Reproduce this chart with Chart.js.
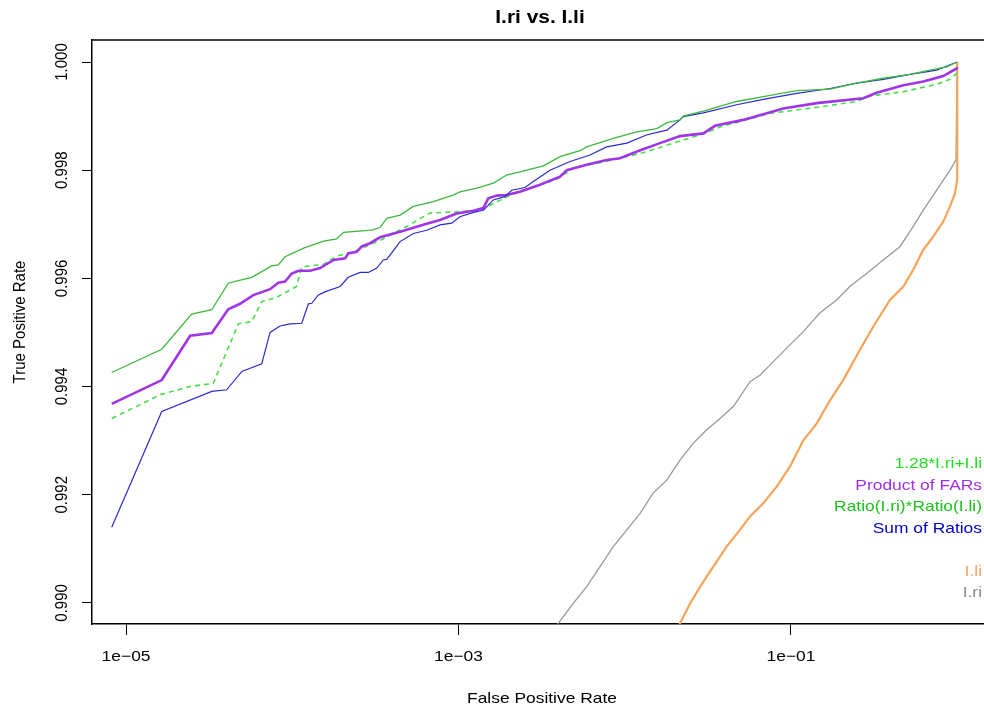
<!DOCTYPE html>
<html>
<head>
<meta charset="utf-8">
<script src="https://cdn.jsdelivr.net/npm/chart.js@4.4.1/dist/chart.umd.min.js"></script>
<style>
html,body{margin:0;padding:0;background:#fff;}
#wrap{width:984px;height:713px;}
</style>
</head>
<body>
<div id="wrap"><canvas id="c" width="984" height="713"></canvas></div>
<script>
// ---------- data ----------
const chartTitle = 'I.ri vs. I.li';
const xAxisTitle = 'False Positive Rate';
const yAxisTitle = 'True Positive Rate';

const xTickValues = [1e-5, 1e-3, 1e-1];
const xTickLabels = ['1e\u221205', '1e\u221203', '1e\u221201'];
const yTickValues = [0.990, 0.992, 0.994, 0.996, 0.998, 1.000];
const yTickLabels = ['0.990', '0.992', '0.994', '0.996', '0.998', '1.000'];

const legendLabels = ['1.28*I.ri+I.li', 'Product of FARs', 'Ratio(I.ri)*Ratio(I.li)', 'Sum of Ratios', '', 'I.li', 'I.ri'];
const legendColors = ['#1fe01f', '#a030e8', '#1cc01c', '#0000cc', '#ffffff', '#f4a460', '#8c8c8c'];

// Ratio(I.ri)*Ratio(I.li)
const ratioFpr = [8.20e-6,1.64e-5,2.48e-5,3.28e-5,4.12e-5,4.74e-5,5.70e-5,7.52e-5,8.24e-5,9.05e-5,1.17e-4,1.54e-4,1.85e-4,2.03e-4,3.00e-4,3.37e-4,3.70e-4,4.45e-4,5.35e-4,7.05e-4,9.30e-4,1.02e-3,1.29e-3,1.62e-3,1.95e-3,2.57e-3,3.24e-3,4.08e-3,5.38e-3,5.90e-3,8.53e-3,1.18e-2,1.56e-2,1.79e-2,2.15e-2,2.25e-2,2.97e-2,4.71e-2,6.81e-2,1.08e-1,1.72e-1,2.48e-1,3.59e-1,5.20e-1,6.86e-1,8.64e-1,1.0];
const ratioTpr = [0.99426,0.99469,0.99534,0.99542,0.99591,0.99596,0.99602,0.99623,0.99625,0.99640,0.99656,0.99669,0.99673,0.99685,0.99689,0.99694,0.99711,0.99717,0.99733,0.99742,0.99754,0.99760,0.99767,0.99776,0.99791,0.99800,0.99808,0.99825,0.99836,0.99843,0.99859,0.99871,0.99877,0.99888,0.99893,0.99900,0.99909,0.99927,0.99936,0.99947,0.99950,0.99961,0.99970,0.99977,0.99985,0.99991,1.0];

// Sum of Ratios
const sumFpr = [8.20e-6,1.64e-5,3.28e-5,4.03e-5,4.97e-5,6.55e-5,7.35e-5,8.44e-5,9.69e-5,1.14e-4,1.25e-4,1.31e-4,1.43e-4,1.57e-4,1.94e-4,2.17e-4,2.56e-4,2.87e-4,3.22e-4,3.53e-4,3.70e-4,4.45e-4,5.35e-4,6.44e-4,7.74e-4,9.10e-4,1.02e-3,1.23e-3,1.41e-3,1.62e-3,1.90e-3,2.09e-3,2.51e-3,2.82e-3,3.55e-3,4.69e-3,6.18e-3,7.79e-3,1.03e-2,1.35e-2,1.79e-2,2.15e-2,2.25e-2,2.97e-2,4.71e-2,6.81e-2,1.08e-1,1.72e-1,2.48e-1,3.59e-1,5.20e-1,7.52e-1,1.0];
const sumTpr = [0.99140,0.99354,0.99391,0.99394,0.99428,0.99442,0.99500,0.99512,0.99516,0.99517,0.99553,0.99554,0.99569,0.99575,0.99585,0.99602,0.99611,0.99611,0.99619,0.99634,0.99635,0.99668,0.99683,0.99689,0.99699,0.99702,0.99714,0.99722,0.99726,0.99745,0.99751,0.99763,0.99768,0.99779,0.99800,0.99816,0.99828,0.99843,0.99850,0.99865,0.99874,0.99893,0.99899,0.99906,0.99921,0.99931,0.99942,0.99951,0.99961,0.99968,0.99977,0.99985,1.0];

// Product of FARs
const prodFpr = [8.20e-6,1.64e-5,2.43e-5,3.28e-5,4.12e-5,4.85e-5,5.83e-5,7.35e-5,8.24e-5,9.05e-5,9.92e-5,1.09e-4,1.28e-4,1.47e-4,1.77e-4,2.08e-4,2.17e-4,2.44e-4,2.62e-4,2.94e-4,3.37e-4,4.45e-4,6.14e-4,7.74e-4,9.75e-4,1.23e-3,1.41e-3,1.51e-3,1.70e-3,1.95e-3,2.34e-3,3.09e-3,4.08e-3,4.48e-3,5.90e-3,7.79e-3,9.36e-3,1.24e-2,1.63e-2,2.15e-2,2.97e-2,3.49e-2,5.16e-2,8.99e-2,1.43e-1,2.72e-1,3.28e-1,4.74e-1,6.25e-1,8.24e-1,9.92e-1,1.0];
const prodTpr = [0.99368,0.99412,0.99494,0.99499,0.99543,0.99553,0.99569,0.99580,0.99592,0.99594,0.99609,0.99614,0.99614,0.99619,0.99634,0.99637,0.99646,0.99649,0.99659,0.99665,0.99676,0.99686,0.99699,0.99708,0.99720,0.99725,0.99730,0.99748,0.99753,0.99754,0.99760,0.99773,0.99788,0.99800,0.99810,0.99819,0.99822,0.99837,0.99850,0.99863,0.99868,0.99882,0.99893,0.99914,0.99924,0.99933,0.99943,0.99957,0.99964,0.99974,0.99988,0.99990];

// 1.28*I.ri+I.li
const linFpr = [8.20e-6,1.64e-5,2.43e-5,3.35e-5,4.74e-5,5.70e-5,6.55e-5,8.06e-5,1.06e-4,1.14e-4,1.54e-4,1.85e-4,2.33e-4,3.07e-4,3.37e-4,4.88e-4,6.74e-4,9.75e-4,1.35e-3,2.14e-3,2.95e-3,3.90e-3,4.90e-3,7.10e-3,9.36e-3,1.35e-2,2.15e-2,2.97e-2,3.74e-2,7.48e-2,1.49e-1,2.48e-1,2.99e-1,4.74e-1,7.52e-1,9.05e-1,1.0];
const linTpr = [0.99341,0.99386,0.99400,0.99406,0.99516,0.99520,0.99557,0.99565,0.99585,0.99621,0.99626,0.99641,0.99649,0.99665,0.99670,0.99696,0.99721,0.99723,0.99726,0.99757,0.99771,0.99783,0.99804,0.99814,0.99822,0.99834,0.99854,0.99867,0.99880,0.99905,0.99917,0.99927,0.99937,0.99945,0.99959,0.99968,0.99980];

// I.ri
const riFpr = [3.22e-3,3.98e-3,4.90e-3,5.90e-3,7.10e-3,8.53e-3,1.03e-2,1.24e-2,1.48e-2,1.79e-2,2.15e-2,2.58e-2,3.11e-2,3.74e-2,4.50e-2,5.67e-2,6.51e-2,7.83e-2,9.42e-2,1.19e-1,1.49e-1,1.88e-1,2.26e-1,2.85e-1,3.59e-1,4.53e-1,5.44e-1,6.25e-1,7.52e-1,9.05e-1,9.83e-1,1.0];
const riTpr = [0.98926,0.98962,0.98999,0.99030,0.99067,0.99104,0.99135,0.99166,0.99203,0.99227,0.99264,0.99295,0.99320,0.99341,0.99363,0.99409,0.99421,0.99446,0.99471,0.99502,0.99536,0.99560,0.99585,0.99609,0.99634,0.99659,0.99696,0.99726,0.99763,0.99800,0.99819,1.0];

// I.li
const liFpr = [1.87e-2,2.15e-2,2.47e-2,2.84e-2,3.41e-2,4.10e-2,4.93e-2,5.67e-2,6.81e-2,8.20e-2,9.86e-2,1.19e-1,1.43e-1,1.72e-1,2.06e-1,2.60e-1,3.13e-1,3.94e-1,4.74e-1,5.44e-1,6.25e-1,7.18e-1,8.24e-1,9.05e-1,9.69e-1,0.999,1.0];
const liTpr = [0.98926,0.98962,0.98999,0.99030,0.99067,0.99104,0.99135,0.99160,0.99184,0.99215,0.99252,0.99301,0.99332,0.99375,0.99412,0.99468,0.99511,0.99560,0.99585,0.99616,0.99653,0.99677,0.99705,0.99733,0.99757,0.99782,1.0];

// ---------- chart ----------
function pts(xs, ys) { return xs.map((x, i) => ({ x: x, y: ys[i] })); }

const FONT = '"Liberation Sans", Arial, Helvetica, sans-serif';
const SX = 1.16;

function drawText(ctx, text, x, y, opt) {
  ctx.save();
  ctx.translate(x, y);
  ctx.scale(opt.sx || SX, 1);
  if (opt.rot) ctx.rotate(opt.rot);
  ctx.font = opt.font;
  ctx.fillStyle = opt.color || '#000';
  ctx.textAlign = opt.align || 'center';
  ctx.textBaseline = 'middle';
  ctx.fillText(text, 0, 0);
  ctx.restore();
}

const textPlugin = {
  id: 'rtext',
  afterDraw(chart) {
    const ctx = chart.ctx;
    const ca = chart.chartArea;
    const xs = chart.scales.x, ys = chart.scales.y;
    // top frame line
    ctx.save();
    ctx.strokeStyle = '#000';
    ctx.lineWidth = 1.6;
    ctx.beginPath();
    ctx.moveTo(ca.left, ca.top);
    ctx.lineTo(ca.right, ca.top);
    ctx.stroke();
    ctx.restore();
    // title
    drawText(ctx, chartTitle, 540, 18, { font: 'bold 19px ' + FONT, sx: 1.1 });
    // x ticks labels
    xTickValues.forEach((v, i) => {
      drawText(ctx, xTickLabels[i], xs.getPixelForValue(v), 657, { font: '15px ' + FONT });
    });
    // y tick labels (rotated)
    yTickValues.forEach((v, i) => {
      drawText(ctx, yTickLabels[i], 62, ys.getPixelForValue(v), { font: '15px ' + FONT, rot: -Math.PI / 2 });
    });
    // axis titles
    drawText(ctx, xAxisTitle, 542, 699, { font: '15px ' + FONT });
    drawText(ctx, yAxisTitle, 20, 322, { font: '15px ' + FONT, rot: -Math.PI / 2 });
    // legend text
    legendLabels.forEach((t, i) => {
      if (!t) return;
      drawText(ctx, t, 982, 464 + i * 21.5, { font: '15px ' + FONT, color: legendColors[i], align: 'right' });
    });
  }
};

const ctx = document.getElementById('c').getContext('2d');
new Chart(ctx, {
  type: 'scatter',
  data: {
    datasets: [
      { label: 'Ratio(I.ri)*Ratio(I.li)', data: pts(ratioFpr, ratioTpr), borderColor: '#3cb83c', borderWidth: 1.3 },
      { label: 'Sum of Ratios', data: pts(sumFpr, sumTpr), borderColor: '#2a2ad0', borderWidth: 1.2 },
      { label: 'Product of FARs', data: pts(prodFpr, prodTpr), borderColor: '#a035e8', borderWidth: 2.6 },
      { label: '1.28*I.ri+I.li', data: pts(linFpr, linTpr), borderColor: '#48e048', borderWidth: 1.6, borderDash: [5, 4] },
      { label: 'I.li', data: pts(liFpr, liTpr), borderColor: '#f5a55a', borderWidth: 2.2 },
      { label: 'I.ri', data: pts(riFpr, riTpr), borderColor: '#999999', borderWidth: 1.3 }
    ].map(d => Object.assign(d, { showLine: true, pointRadius: 0, pointHoverRadius: 0, fill: false, tension: 0 }))
  },
  options: {
    responsive: false,
    devicePixelRatio: 1,
    animation: false,
    events: [],
    layout: { padding: { top: 40, right: 0, left: 0, bottom: 0 } },
    plugins: { legend: { display: false }, title: { display: false }, tooltip: { enabled: false } },
    scales: {
      x: {
        type: 'logarithmic',
        min: 6.24e-6,
        max: 1.449,
        afterBuildTicks: s => { s.ticks = xTickValues.map(v => ({ value: v })); },
        afterFit: s => { s.height = 89; },
        ticks: { display: false },
        grid: { display: true, drawOnChartArea: false, drawTicks: true, tickLength: 11, color: '#000', lineWidth: 1 },
        border: { display: true, color: '#000', width: 1.5 }
      },
      y: {
        type: 'linear',
        min: 0.98961,
        max: 1.000407,
        afterBuildTicks: s => { s.ticks = yTickValues.map(v => ({ value: v })); },
        afterFit: s => { s.width = 92; },
        ticks: { display: false },
        grid: { display: true, drawOnChartArea: false, drawTicks: true, tickLength: 10, color: '#000', lineWidth: 1 },
        border: { display: true, color: '#000', width: 1.5 }
      }
    }
  },
  plugins: [textPlugin]
});
</script>
</body>
</html>
